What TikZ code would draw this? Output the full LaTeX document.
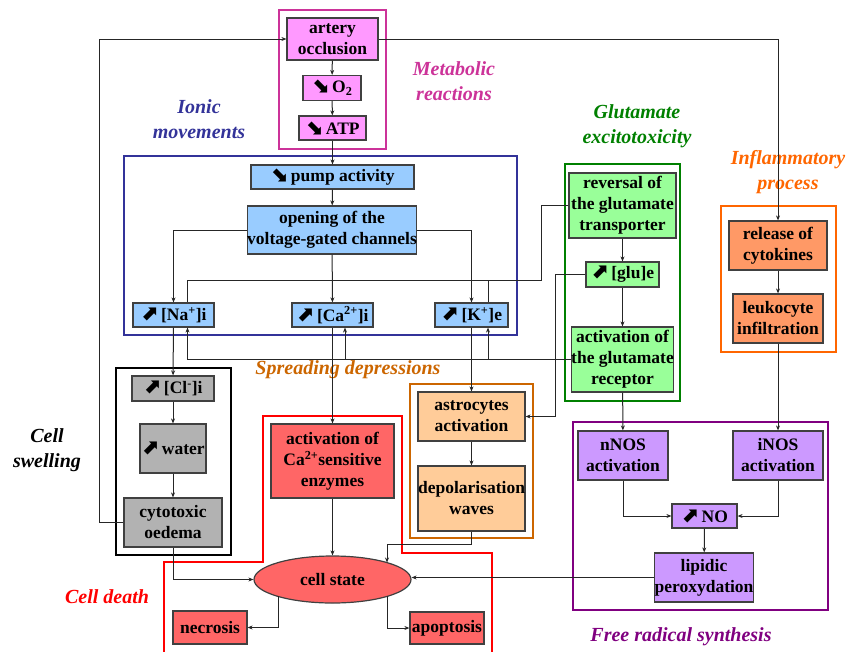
\documentclass[tikz,border=0pt]{standalone}
\usepackage{fontspec}
\setmainfont{Liberation Serif}
\newfontfamily\arrfont{DejaVu Sans}
\usetikzlibrary{arrows.meta,shapes.geometric}
\definecolor{metfill}{HTML}{FF99FF}
\definecolor{metline}{HTML}{CC3399}
\definecolor{ionfill}{HTML}{99CCFF}
\definecolor{ionline}{HTML}{333399}
\definecolor{glufill}{HTML}{99FF99}
\definecolor{gluline}{HTML}{008000}
\definecolor{inffill}{HTML}{FF9966}
\definecolor{infline}{HTML}{FF6600}
\definecolor{swfill}{HTML}{B2B2B2}
\definecolor{spfill}{HTML}{FFCC99}
\definecolor{spline}{HTML}{CC6600}
\definecolor{defill}{HTML}{FF6666}
\definecolor{deline}{HTML}{FF0000}
\definecolor{frfill}{HTML}{CC99FF}
\definecolor{frline}{HTML}{800080}
\newcommand{\incr}{{\arrfont\bfseries\fontsize{21}{21}\selectfont ⬈}}
\newcommand{\decr}{{\arrfont\bfseries\fontsize{21}{21}\selectfont ⬊}}
\begin{document}
\begin{tikzpicture}[x=1pt,y=-1pt,
  box/.style={draw=black!75,line width=1.2pt,align=center,inner sep=0pt,
    font=\bfseries\fontsize{17.5}{21}\selectfont},
  sz/.style 2 args={minimum width=#1pt,minimum height=#2pt},
  group/.style={line width=2.6pt},
  lab/.style={align=center,font=\bfseries\itshape\fontsize{20}{25}\selectfont},
  link/.style={draw=black!85,line width=1pt},
  >={Stealth[length=5pt,width=4pt]}]
\useasboundingbox (0,0) rectangle (848,651);

\foreach \xa/\ya/\xb/\yb/\col in {279/10/386/149/metline, 124/156/517/335/ionline,
  565/164/680/401/gluline, 721/206/836/352/infline, 116/368/231/555/black,
  410/384/533/538/spline, 573/422/828/610/frline}
{
    \draw[group,draw=\col] (\xa,\ya) rectangle (\xb,\yb);
}
\draw[group,deline] (164,660) -- (164,562) -- (263,562) -- (263,416) -- (402,416)
  -- (402,553) -- (492,553) -- (492,660);

\node[lab,metline] (tmet) at (454,81) {Metabolic\\reactions};
\node[lab,ionline] (tion) at (199,119) {Ionic\\movements};
\node[lab,gluline] (tglu) at (637,126) {Glutamate\\excitotoxicity};
\node[lab,infline] (tinf) at (788,172) {Inflammatory\\process};
\node[lab,black] (tsw) at (47,450) {Cell\\swelling};
\node[lab,spline] (tsp) at (348,370) {Spreading depressions};
\node[lab,deline] (tde) at (107,597) {Cell death};
\node[lab,frline] (tfr) at (681,637) {Free radical synthesis};

\node[box,fill=metfill,sz={91}{42}] (art) at (332.5,39) {artery\\occlusion};
\node[box,fill=metfill,sz={58}{25}] (otwo) at (332,88) {\decr\,O\textsubscript{2}};
\node[box,fill=metfill,sz={67}{24}] (atp) at (332.5,128) {\decr\,ATP};
\node[box,fill=ionfill,sz={163}{24}] (pump) at (332.5,177) {\decr\,pump activity};
\node[box,fill=ionfill,sz={156}{48}] (open) at (332,230) {opening of the\\voltage-gated channels};
\node[box,fill=ionfill,sz={81}{24}] (na) at (173.5,315) {\incr\,[Na\textsuperscript{+}]i};
\node[box,fill=ionfill,sz={81}{24}] (ca) at (332.5,315) {\incr\,[Ca\textsuperscript{2+}]i};
\node[box,fill=ionfill,sz={73}{24}] (kk) at (471.5,315) {\incr\,[K\textsuperscript{+}]e};
\node[box,fill=glufill,sz={107}{65}] (rev) at (622.5,205.5) {reversal of\\the glutamate\\transporter};
\node[box,fill=glufill,sz={73}{25}] (glu) at (622.5,274.5) {\incr\,[glu]e};
\node[box,fill=glufill,sz={99}{65}] (rec) at (622.5,359.5) {activation of\\the glutamate\\receptor};
\node[box,fill=inffill,sz={98}{49}] (cyt) at (778,245.5) {release of\\cytokines};
\node[box,fill=inffill,sz={90}{49}] (leu) at (778,318.5) {leukocyte\\infiltration};
\node[box,fill=swfill,sz={82}{25}] (cl) at (173,388.5) {\incr\,[Cl\textsuperscript{-}]i};
\node[box,fill=swfill,sz={66}{49}] (wat) at (173,448.5) {\incr\,water};
\node[box,fill=swfill,sz={98}{49}] (oed) at (173,522.5) {cytotoxic\\oedema};
\node[box,fill=defill,sz={123}{74}] (enz) at (332.5,461) {activation of\\Ca\textsuperscript{2+}sensitive\\enzymes};
\node[box,fill=defill,ellipse,sz={157}{47}] (cell) at (332.5,579.5) {cell state};
\node[box,fill=defill,sz={74}{33}] (nec) at (210,627.5) {necrosis};
\node[box,fill=defill,sz={74}{32}] (apo) at (447,628) {apoptosis};
\node[box,fill=spfill,sz={107}{49}] (ast) at (471.5,416.5) {astrocytes\\activation};
\node[box,fill=spfill,sz={107}{65}] (dep) at (471.5,498.5) {depolarisation\\waves};
\node[box,fill=frfill,sz={90}{49}] (nnos) at (623,455.5) {nNOS\\activation};
\node[box,fill=frfill,sz={90}{49}] (inos) at (778,455.5) {iNOS\\activation};
\node[box,fill=frfill,sz={65}{24}] (no) at (704.5,516) {\incr\,NO};
\node[box,fill=frfill,sz={98}{49}] (lip) at (704,577.5) {lipidic\\peroxydation};

\coordinate (nat) at ([xshift=14pt]na.north);
\coordinate (nab) at ([xshift=14pt]na.south);
\coordinate (cab) at ([xshift=12.5pt]ca.south);
\coordinate (kt) at ([xshift=16.5pt]kk.north);
\coordinate (kb) at ([xshift=16.5pt]kk.south);
\coordinate (cs1) at (387,562.5);
\coordinate (cs2) at (278,596);
\coordinate (cs3) at (387,596);

\foreach \a/\b in {art/otwo,otwo/atp,atp/pump,pump/open,open/ca,ca/enz,enz/cell,
  na/cl,cl/wat,wat/oed,kk/ast,ast/dep,rev/glu,glu/rec,rec/nnos,cyt/leu,leu/inos,no/lip}
{
    \draw[link,->] (\a) -- (\b);
}
\draw[link,->] (open.west) -| (na);
\draw[link,->] (open.east) -| (kk);
\draw[link,->] (oed.west) -- ++(-24,0) |- (art);
\draw[link,->] (art) -| (cyt);
\draw[link,->] (oed) |- (cell);
\draw[link,->] (nnos) |- (no);
\draw[link,->] (inos) |- (no);
\draw[link,->] (lip) -- (lip -| cell.east);
\draw[link,->] (glu.west) -- ++(-30,0) |- (ast);
\draw[link] (rev.west) -- ++(-27,0) -- ++(0,74.5) coordinate (jr) -| (nat);
\draw[link] (jr -| kt) -- (kt);
\draw[link,->] (rec.west) -| (nab);
\draw[link,->] (cab |- rec.west) -- (cab);
\draw[link,->] (kb |- rec.west) -- (kb);
\draw[link,->] (dep.south) -- ++(0,12.5) -| (cs1);
\draw[link,->] (cs2) |- (nec);
\draw[link,->] (cs3) |- (apo);

\end{tikzpicture}
\end{document}
